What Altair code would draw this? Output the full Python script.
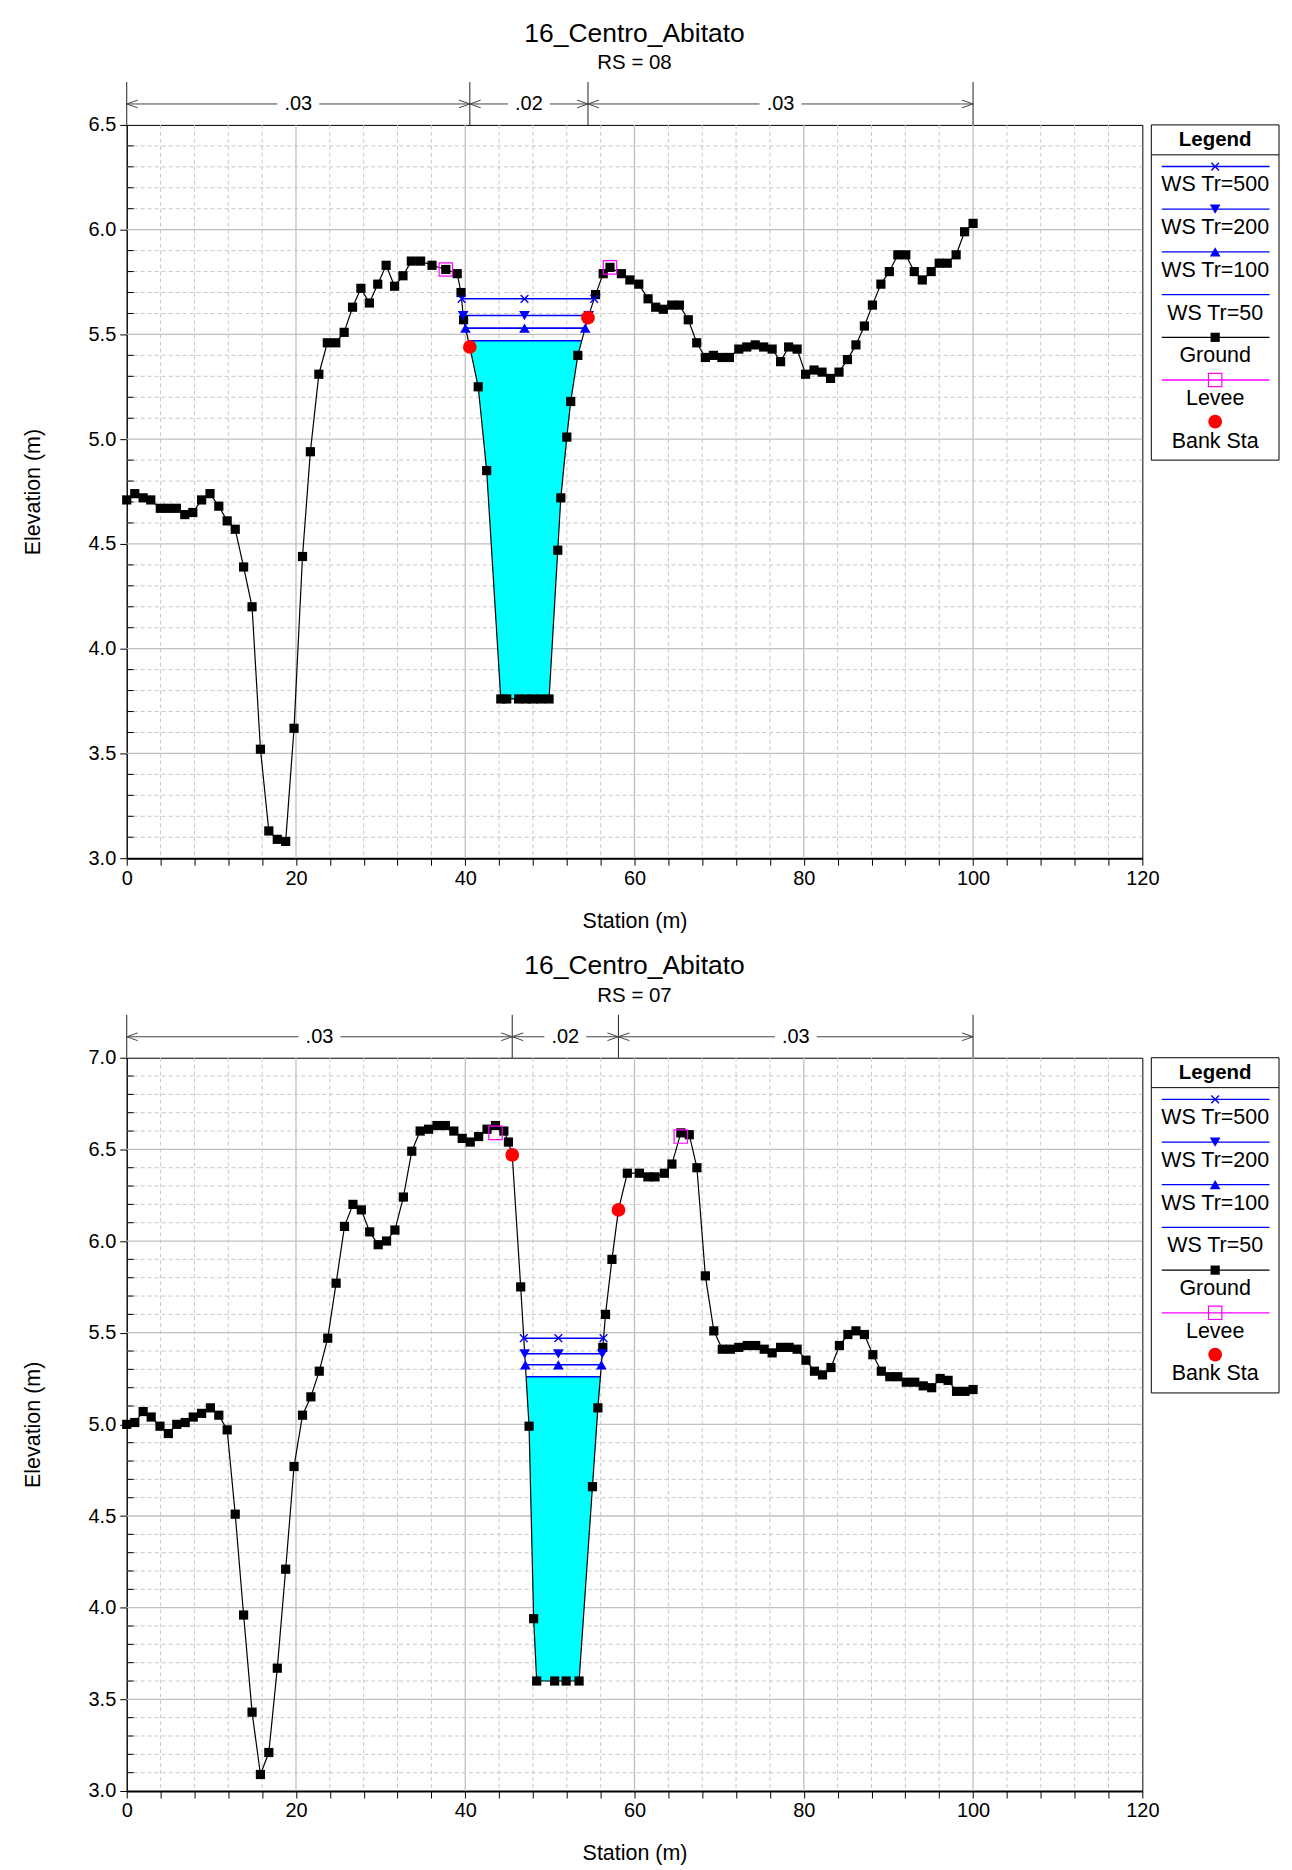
import altair as alt
import pandas as pd
import numpy as np

FONT = "Liberation Sans"
PLOT_W = 1018
PLOT_H = 735

# ---------------- text ----------------
river = "16_Centro_Abitato"
station_title = "Station (m)"
elev_title = "Elevation (m)"
legend_title = "Legend"
legend_labels = ["WS Tr=500", "WS Tr=200", "WS Tr=100", "WS Tr=50", "Ground", "Levee", "Bank Sta"]
n_labels = [".03", ".02", ".03"]

# ---------------- RS = 08 ----------------
rs_08 = "RS = 08"
sta_08 = [0.0, 0.95, 1.94, 2.84, 3.97, 4.88, 5.87, 6.86, 7.81, 8.85,
          9.84, 10.88, 11.87, 12.82, 13.81, 14.81, 15.80, 16.79, 17.79, 18.78,
          19.77, 20.77, 21.70, 22.70, 23.70, 24.70, 25.69, 26.68, 27.67, 28.67,
          29.66, 30.65, 31.65, 32.64, 33.63, 34.72, 36.07, 37.70, 39.05, 39.50,
          39.80, 40.54, 41.53, 42.53, 44.20, 44.90, 46.30, 47.20, 48.00, 48.90,
          49.90, 50.93, 51.29, 52.00, 52.46, 53.30, 54.50, 55.40, 56.30, 57.10,
          58.45, 59.45, 60.50, 61.60, 62.50, 63.40, 64.40, 65.30, 66.35, 67.35,
          68.37, 69.32, 70.32, 71.21, 72.32, 73.26, 74.26, 75.26, 76.26, 77.26,
          78.21, 79.21, 80.21, 81.21, 82.16, 83.16, 84.16, 85.16, 86.16, 87.16,
          88.11, 89.11, 90.11, 91.11, 92.05, 93.05, 94.00, 95.05, 96.00, 96.95,
          98.00, 99.00, 100.0]
elev_08 = [4.71, 4.74, 4.72, 4.71, 4.67, 4.67, 4.67, 4.64, 4.65, 4.71,
           4.74, 4.68, 4.61, 4.57, 4.39, 4.20, 3.52, 3.13, 3.09, 3.08,
           3.62, 4.44, 4.94, 5.31, 5.46, 5.46, 5.51, 5.63, 5.72, 5.65,
           5.74, 5.83, 5.73, 5.78, 5.85, 5.85, 5.83, 5.81, 5.79, 5.70,
           5.57, 5.44, 5.25, 4.85, 3.76, 3.76, 3.76, 3.76, 3.76, 3.76,
           3.76, 4.47, 4.72, 5.01, 5.18, 5.40, 5.58, 5.69, 5.79, 5.82,
           5.79, 5.76, 5.74, 5.67, 5.63, 5.62, 5.64, 5.64, 5.57, 5.46,
           5.39, 5.40, 5.39, 5.39, 5.43, 5.44, 5.45, 5.44, 5.43, 5.37,
           5.44, 5.43, 5.31, 5.33, 5.32, 5.29, 5.32, 5.38, 5.45, 5.54,
           5.64, 5.74, 5.80, 5.88, 5.88, 5.80, 5.76, 5.80, 5.84, 5.84,
           5.88, 5.99, 6.03]
levee_sta_08 = [37.70, 57.10]
levee_elev_08 = [5.81, 5.82]
bank_sta_08 = [40.54, 54.50]
bank_elev_08 = [5.44, 5.58]
ws_elev_08 = [5.67, 5.59, 5.53, 5.47]      # Tr=500, 200, 100, 50
ws_mid_08 = 47.0
n_break_08 = [0.0, 40.54, 54.50, 100.0]
y_dom_08 = [3.0, 6.5]

# ---------------- RS = 07 ----------------
rs_07 = "RS = 07"
sta_07 = [0.0, 0.95, 1.94, 2.89, 3.93, 4.92, 5.91, 6.91, 7.86, 8.85,
          9.89, 10.88, 11.87, 12.82, 13.81, 14.81, 15.80, 16.79, 17.79, 18.78,
          19.77, 20.77, 21.76, 22.75, 23.75, 24.74, 25.73, 26.73, 27.72, 28.71,
          29.71, 30.70, 31.69, 32.69, 33.68, 34.67, 35.67, 36.66, 37.65, 38.65,
          39.64, 40.59, 41.58, 42.57, 43.57, 44.56, 45.10, 45.55, 46.55, 47.54,
          48.08, 48.44, 50.56, 51.92, 53.45, 55.03, 55.67, 56.25, 56.57, 57.33,
          58.10, 59.15, 60.58, 61.58, 62.42, 63.53, 64.42, 65.47, 66.47, 67.37,
          68.37, 69.37, 70.37, 71.32, 72.32, 73.32, 74.32, 75.32, 76.26, 77.26,
          78.26, 79.21, 80.26, 81.26, 82.21, 83.21, 84.21, 85.21, 86.16, 87.16,
          88.16, 89.16, 90.16, 91.11, 92.11, 93.11, 94.11, 95.11, 96.11, 97.05,
          98.05, 99.05, 100.0]
elev_07 = [5.00, 5.01, 5.07, 5.04, 4.99, 4.95, 5.00, 5.01, 5.04, 5.06,
           5.09, 5.05, 4.97, 4.51, 3.96, 3.43, 3.09, 3.21, 3.67, 4.21,
           4.77, 5.05, 5.15, 5.29, 5.47, 5.77, 6.08, 6.20, 6.17, 6.05,
           5.98, 6.00, 6.06, 6.24, 6.49, 6.60, 6.61, 6.63, 6.63, 6.60,
           6.56, 6.54, 6.57, 6.61, 6.63, 6.60, 6.54, 6.47, 5.75, 4.99,
           3.94, 3.60, 3.60, 3.60, 3.60, 4.66, 5.09, 5.42, 5.60, 5.90,
           6.17, 6.37, 6.37, 6.35, 6.35, 6.37, 6.42, 6.59, 6.58, 6.40,
           5.81, 5.51, 5.41, 5.41, 5.42, 5.43, 5.43, 5.41, 5.39, 5.42,
           5.42, 5.41, 5.35, 5.29, 5.27, 5.31, 5.43, 5.49, 5.51, 5.49,
           5.38, 5.29, 5.26, 5.26, 5.23, 5.23, 5.21, 5.20, 5.25, 5.24,
           5.18, 5.18, 5.19]
levee_sta_07 = [43.57, 65.47]
levee_elev_07 = [6.59, 6.57]
bank_sta_07 = [45.55, 58.10]
bank_elev_07 = [6.47, 6.17]
ws_elev_07 = [5.47, 5.385, 5.325, 5.26]
ws_mid_07 = 51.0
n_break_07 = [0.0, 45.55, 58.10, 100.0]
y_dom_07 = [3.0, 7.0]

assert len(sta_08) == len(elev_08) and len(sta_07) == len(elev_07)

# ---------------- styles ----------------
BLUE = "#0000ff"
GRID = "#c8c8c8"
X_SHAPE = "M-1,-1L1,1M-1,1L1,-1"
ARROW_L = "M2,-0.7L0,0L2,0.7"
ARROW_R = "M-2,-0.7L0,0L-2,0.7"
LABEL_BG = "M-1,-0.45L1,-0.45L1,0.45L-1,0.45Z"
ONE = pd.DataFrame({"k": [0]})
SQ_SIZE, LEV_SIZE, BANK_SIZE, TRI_SIZE, XS_SIZE = 85, 180, 190, 115, 60


def channel_crossing(sta, elev, banks, level):
    s = np.array(sta, dtype=float)
    e = np.array(elev, dtype=float)
    idx = [k for k in range(len(s)) if banks[0] <= s[k] <= banks[1]]
    t = idx[int(np.argmin(e[idx]))]
    i = t
    while e[i - 1] < level:
        i -= 1
    xl = s[i - 1] + (level - e[i - 1]) * (s[i] - s[i - 1]) / (e[i] - e[i - 1])
    j = t
    while e[j + 1] < level:
        j += 1
    xr = s[j] + (level - e[j]) * (s[j + 1] - s[j]) / (e[j + 1] - e[j])
    return xl, xr, i, j


def panel(rs, sta, elev, lev_s, lev_e, bank_s, bank_e, ws_elev, ws_mid, n_break, ydom):
    xs = alt.Scale(domain=[0, 120], nice=False, zero=False)
    ys = alt.Scale(domain=ydom, nice=False, zero=False)

    n_tenth = int(round((ydom[1] - ydom[0]) * 10))
    y_all = [round(ydom[0] + k / 10, 1) for k in range(n_tenth + 1)]
    y_minor = [v for v in y_all if abs(v * 2 - round(v * 2)) > 1e-6]
    y_major = [v for v in y_all if abs(v * 2 - round(v * 2)) < 1e-6]
    x_minor = [v for v in range(0, 121, 4) if v % 20 != 0]
    x_major = list(range(20, 120, 20))

    axis_x = alt.Axis(values=list(range(0, 121, 4)),
                      labelExpr="datum.value % 20 == 0 ? datum.label : ''",
                      format="d", title=station_title, grid=False, tickSize=7,
                      tickColor="black", domainColor="black", domainWidth=2,
                      labelFont=FONT, labelFontSize=20, labelColor="black",
                      titleFont=FONT, titleFontSize=21.5, titleFontWeight="normal",
                      titleColor="black", labelPadding=3, titlePadding=22,
                      labelFlush=False, labelOverlap=False)
    axis_y = alt.Axis(values=y_major, format=".1f", title=elev_title, grid=False,
                      tickSize=7, tickColor="black", domainColor="black",
                      labelFont=FONT, labelFontSize=20, labelColor="black",
                      titleFont=FONT, titleFontSize=21.5, titleFontWeight="normal",
                      titleColor="black", labelPadding=4, titlePadding=44,
                      labelFlush=False, labelOverlap=False)

    def X(f):
        return alt.X(f, scale=xs, axis=axis_x)

    def Y(f):
        return alt.Y(f, scale=ys, axis=axis_y)

    grid_x_minor = alt.Chart(pd.DataFrame({"v": x_minor})).mark_rule(
        color=GRID, strokeWidth=1, strokeDash=[4, 3]).encode(
        x=X("v:Q"), y=alt.value(0), y2=alt.value(PLOT_H))
    grid_y_minor = alt.Chart(pd.DataFrame({"v": y_minor})).mark_rule(
        color=GRID, strokeWidth=1, strokeDash=[4, 3]).encode(
        y=Y("v:Q"), x=alt.value(0), x2=alt.value(PLOT_W))
    grid_x_major = alt.Chart(pd.DataFrame({"v": x_major})).mark_rule(
        color="#c0c0c0", strokeWidth=1.3).encode(
        x=X("v:Q"), y=alt.value(0), y2=alt.value(PLOT_H))
    grid_y_major = alt.Chart(pd.DataFrame({"v": y_major[1:-1]})).mark_rule(
        color="#c0c0c0", strokeWidth=1.3).encode(
        y=Y("v:Q"), x=alt.value(0), x2=alt.value(PLOT_W))
    y_minor_ticks = alt.Chart(pd.DataFrame({"v": y_minor})).mark_rule(
        color="black", strokeWidth=1).encode(
        y=Y("v:Q"), x=alt.value(0), x2=alt.value(7))

    # water surfaces
    ws_rows, mk_rows = [], []
    area_df = None
    for name, lvl in zip(legend_labels[:4], ws_elev):
        xl, xr, i, j = channel_crossing(sta, elev, bank_s, lvl)
        ws_rows.append({"name": name, "lvl": lvl, "xl": xl, "xr": xr})
        if name != "WS Tr=50":
            for xx in (xl, ws_mid, xr):
                mk_rows.append({"name": name, "lvl": lvl, "x": xx})
        else:
            area_df = pd.DataFrame({
                "sta": [xl] + list(sta[i:j + 1]) + [xr],
                "g": [lvl] + list(elev[i:j + 1]) + [lvl],
                "lvl": lvl})
    ws_df = pd.DataFrame(ws_rows)
    mk_df = pd.DataFrame(mk_rows)

    water = alt.Chart(area_df).mark_area(color="#00ffff", opacity=1).encode(
        x=X("sta:Q"), y=Y("g:Q"), y2=alt.Y2("lvl:Q"))
    ws_lines = alt.Chart(ws_df).mark_rule(color=BLUE, strokeWidth=1.6).encode(
        x=X("xl:Q"), x2=alt.X2("xr:Q"), y=Y("lvl:Q"))
    mk_x = alt.Chart(mk_df[mk_df.name == "WS Tr=500"]).mark_point(
        shape=X_SHAPE, filled=False, color=BLUE, size=XS_SIZE, strokeWidth=1.4, opacity=1).encode(
        x=X("x:Q"), y=Y("lvl:Q"))
    mk_dn = alt.Chart(mk_df[mk_df.name == "WS Tr=200"]).mark_point(
        shape="triangle-down", filled=True, color=BLUE, size=TRI_SIZE, opacity=1).encode(
        x=X("x:Q"), y=Y("lvl:Q"))
    mk_up = alt.Chart(mk_df[mk_df.name == "WS Tr=100"]).mark_point(
        shape="triangle-up", filled=True, color=BLUE, size=TRI_SIZE, opacity=1).encode(
        x=X("x:Q"), y=Y("lvl:Q"))

    # ground
    gdf = pd.DataFrame({"sta": sta, "elev": elev})
    ground_line = alt.Chart(gdf).mark_line(color="black", strokeWidth=1.2).encode(
        x=X("sta:Q"), y=Y("elev:Q"))
    ground_pts = alt.Chart(gdf).mark_point(
        shape="square", filled=True, color="black", size=SQ_SIZE, opacity=1).encode(
        x=X("sta:Q"), y=Y("elev:Q"))
    levee = alt.Chart(pd.DataFrame({"s": lev_s, "e": lev_e})).mark_point(
        shape="square", filled=False, color="#ff00ff", size=LEV_SIZE, strokeWidth=1.2,
        opacity=1).encode(x=X("s:Q"), y=Y("e:Q"))
    bank = alt.Chart(pd.DataFrame({"s": bank_s, "e": bank_e})).mark_point(
        shape="circle", filled=True, color="#ff0000", size=BANK_SIZE, opacity=1).encode(
        x=X("s:Q"), y=Y("e:Q"))

    # Manning's n bar
    NB_Y = -21
    nb = pd.DataFrame({"s": n_break})
    seg = pd.DataFrame({"a": n_break[:-1], "b": n_break[1:], "lab": n_labels})
    seg["m"] = (seg.a + seg.b) / 2
    n_vert = alt.Chart(nb).mark_rule(color="#222222", strokeWidth=1).encode(
        x=X("s:Q"), y=alt.value(-43), y2=alt.value(0))
    n_line = alt.Chart(seg).mark_rule(color="#444444", strokeWidth=1).encode(
        x=X("a:Q"), x2=alt.X2("b:Q"), y=alt.value(NB_Y))
    n_al = alt.Chart(seg).mark_point(shape=ARROW_L, filled=False, color="#444444",
                                     size=121, strokeWidth=1, opacity=1).encode(
        x=X("a:Q"), y=alt.value(NB_Y))
    n_ar = alt.Chart(seg).mark_point(shape=ARROW_R, filled=False, color="#444444",
                                     size=121, strokeWidth=1, opacity=1).encode(
        x=X("b:Q"), y=alt.value(NB_Y))
    n_bg = alt.Chart(seg).mark_point(shape=LABEL_BG, filled=True, color="white",
                                     size=1764, opacity=1, strokeWidth=0).encode(
        x=X("m:Q"), y=alt.value(NB_Y))
    n_txt = alt.Chart(seg).mark_text(font=FONT, fontSize=20, color="black",
                                     baseline="middle", align="center").encode(
        x=X("m:Q"), y=alt.value(NB_Y), text="lab:N")

    # legend (pixel layout)
    LX0, LX1, LCX = 1027, 1155, 1091
    step = 42.8
    line_y = [41.7 + step * k for k in range(7)]
    text_y = [y + 19 for y in line_y]
    leg_box = alt.Chart(ONE).mark_rect(fill="white", stroke="black", strokeWidth=1).encode(
        x=alt.value(LX0), x2=alt.value(LX1), y=alt.value(0), y2=alt.value(336))
    leg_sep = alt.Chart(ONE).mark_rule(color="black", strokeWidth=1).encode(
        x=alt.value(LX0), x2=alt.value(LX1), y=alt.value(30))
    leg_head = alt.Chart(ONE).mark_text(font=FONT, fontSize=20.5, fontWeight="bold",
                                        color="black", baseline="middle").encode(
        x=alt.value(LCX), y=alt.value(15), text=alt.value(legend_title))
    line_colors = [BLUE, BLUE, BLUE, BLUE, "black", "#ff00ff"]
    leg_lines = alt.Chart(pd.DataFrame({"py": line_y[:6], "c": line_colors})).mark_rule(
        strokeWidth=1.3).encode(
        x=alt.value(LX0 + 10.5), x2=alt.value(LX1 - 9.5),
        y=alt.Y("py:Q", scale=None), color=alt.Color("c:N", scale=None))
    leg_txt = alt.Chart(pd.DataFrame({"py": text_y, "lab": legend_labels})).mark_text(
        font=FONT, fontSize=21.5, color="black", baseline="middle").encode(
        x=alt.value(LCX), y=alt.Y("py:Q", scale=None), text="lab:N")

    def leg_mark(k, **kw):
        return alt.Chart(ONE).mark_point(opacity=1, **kw).encode(
            x=alt.value(LCX), y=alt.value(line_y[k]))
    leg_m = [
        leg_mark(0, shape=X_SHAPE, filled=False, color=BLUE, size=XS_SIZE, strokeWidth=1.4),
        leg_mark(1, shape="triangle-down", filled=True, color=BLUE, size=TRI_SIZE),
        leg_mark(2, shape="triangle-up", filled=True, color=BLUE, size=TRI_SIZE),
        leg_mark(4, shape="square", filled=True, color="black", size=SQ_SIZE),
        leg_mark(5, shape="square", filled=False, color="#ff00ff", size=LEV_SIZE, strokeWidth=1.2),
        alt.Chart(ONE).mark_point(shape="circle", filled=True, color="#ff0000", size=BANK_SIZE,
                                  opacity=1).encode(x=alt.value(LCX), y=alt.value(line_y[6] - 1)),
    ]

    layers = [grid_x_minor, grid_y_minor, grid_x_major, grid_y_major, water, ws_lines,
              ground_line, ground_pts, mk_x, mk_dn, mk_up, levee, bank, y_minor_ticks,
              n_vert, n_line, n_al, n_ar, n_bg, n_txt,
              leg_box, leg_sep, leg_head, leg_lines, leg_txt] + leg_m
    return alt.layer(*layers).properties(
        width=PLOT_W, height=PLOT_H,
        title=alt.TitleParams(text=river, subtitle=rs, font=FONT, fontSize=26.5,
                              fontWeight="normal", color="black",
                              subtitleFont=FONT, subtitleFontSize=20.5,
                              subtitleColor="black", anchor="middle", frame="group",
                              offset=8, subtitlePadding=6))


top = panel(rs_08, sta_08, elev_08, levee_sta_08, levee_elev_08, bank_sta_08,
            bank_elev_08, ws_elev_08, ws_mid_08, n_break_08, y_dom_08)
bottom = panel(rs_07, sta_07, elev_07, levee_sta_07, levee_elev_07, bank_sta_07,
               bank_elev_07, ws_elev_07, ws_mid_07, n_break_07, y_dom_07)

chart = alt.vconcat(top, bottom, spacing=21).properties(
    padding={"left": 13, "top": 10, "right": 4, "bottom": 4},
    background="white",
).configure_view(stroke="black", strokeWidth=1)

chart.save("out.html", embed_options={"renderer": "svg", "actions": False})
